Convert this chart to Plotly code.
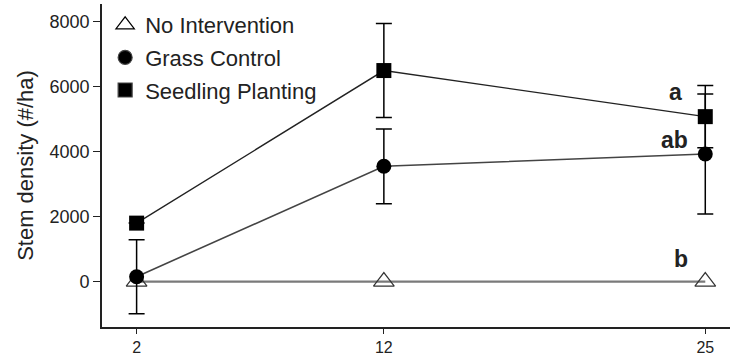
import plotly.graph_objects as go

years = [2, 12, 25]
no_int = [0, 0, 0]
grass = [150, 3550, 3930]
grass_err = [1140, 1150, 1850]
seed = [1800, 6500, 5080]
seed_err = [0, 1450, 960]
letters = ["a", "ab", "b"]
letter_x = [23.8, 23.75, 24.0]
letter_y = [5850, 4350, 680]
yticks = [0, 2000, 4000, 6000, 8000]

FONT = "Liberation Sans, Arial, sans-serif"
fig = go.Figure()

fig.add_trace(go.Scatter(x=years, y=no_int, mode="lines+markers", showlegend=False,
                         line=dict(color="#7a7a7a", width=2.2),
                         marker=dict(symbol="triangle-up-open", size=18, color="#333",
                                     line=dict(width=1.2))))
fig.add_trace(go.Scatter(x=years, y=grass, mode="lines+markers", showlegend=False,
                         line=dict(color="#444", width=1.6),
                         marker=dict(symbol="circle", size=15, color="black"),
                         error_y=dict(type="data", array=grass_err, color="black",
                                      thickness=1.5, width=8)))
fig.add_trace(go.Scatter(x=years, y=seed, mode="lines+markers", showlegend=False,
                         line=dict(color="#222", width=1.4),
                         marker=dict(symbol="square", size=15, color="black"),
                         error_y=dict(type="data", array=seed_err, color="black",
                                      thickness=1.5, width=8)))

names = ["No Intervention", "Grass Control", "Seedling Planting"]
syms = ["triangle-up-open", "circle", "square"]
sizes = [17, 14, 14]
for i, (n, s, sz) in enumerate(zip(names, syms, sizes)):
    fig.add_trace(go.Scatter(x=[None], y=[None], mode="markers", name=n,
                             legendgroup=str(i),
                             marker=dict(symbol=s, size=sz, color="black",
                                         line=dict(width=1.2))))

for l, xx, yy in zip(letters, letter_x, letter_y):
    fig.add_annotation(x=xx, y=yy, text="<b>%s</b>" % l, showarrow=False,
                       font=dict(size=23, color="#222", family=FONT))

fig.update_layout(
    width=735, height=360,
    margin=dict(l=102, r=5, t=4, b=33, autoexpand=False),
    plot_bgcolor="white", paper_bgcolor="white",
    font=dict(family=FONT, color="#222", size=18),
    showlegend=True,
    legend=dict(x=0.005, y=1.0, xanchor="left", yanchor="top",
                font=dict(size=22, color="#222"), tracegroupgap=1,
                bgcolor="rgba(0,0,0,0)", traceorder="grouped"),
    xaxis=dict(range=[0.6, 26.0], tickvals=years, ticks="outside", ticklen=5,
               tickcolor="#222", showline=True, linecolor="#222", linewidth=1.6,
               showgrid=False, zeroline=False, tickfont=dict(size=16),
               automargin=False),
    yaxis=dict(range=[-1400, 8550], tickvals=yticks, ticks="outside", ticklen=7,
               tickcolor="#222", showline=True, linecolor="#222", linewidth=1.6,
               showgrid=False, zeroline=False, tickfont=dict(size=18),
               automargin=False,
               title=dict(text="Stem density (#/ha)", font=dict(size=22), standoff=10)),
)

fig.write_html("out.html")
